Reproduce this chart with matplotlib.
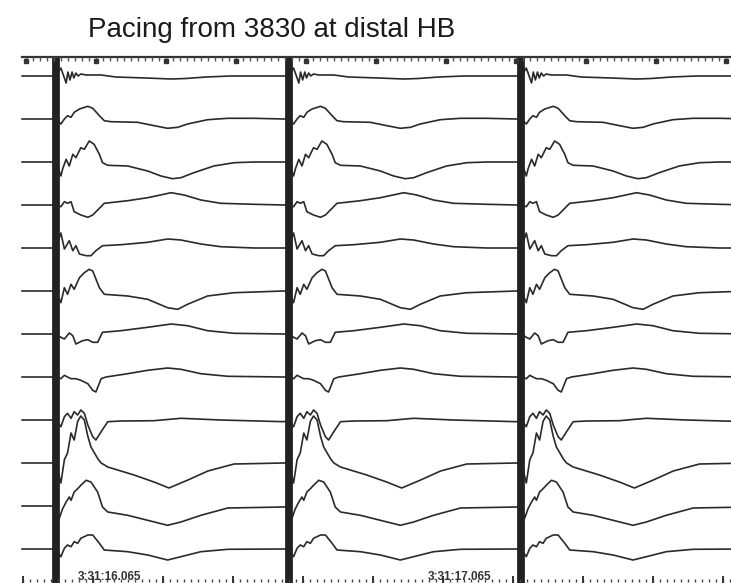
import numpy as np
import matplotlib.pyplot as plt

# pacing times (ms)
pace_ms = [0, 665, 1330]

# one paced complex per channel: time after stimulus (ms) and amplitude (mV)
t01 = [14, 23, 29, 34, 40, 46, 51, 57, 63, 71, 86, 129, 171, 257, 329, 371, 429, 500, 651]
v01 = [0.8, -0.1, -0.7, 0.4, -0.4, 0.4, -0.2, 0.3, 0.0, 0.2, 0.1, 0.1, -0.1, -0.2, -0.3, -0.25, -0.1, 0, 0]

t02 = [14, 24, 33, 43, 52, 67, 91, 105, 124, 138, 157, 233, 281, 319, 348, 376, 433, 491, 566, 651]
v02 = [-0.5, 0.0, 0.33, 0.17, 0.67, 1.0, 1.27, 1.07, 0.33, -0.17, -0.27, -0.33, -0.67, -0.93, -0.83, -0.5, -0.07, 0.07, 0.07, 0]

t03 = [14, 19, 29, 38, 48, 57, 71, 81, 95, 109, 124, 133, 148, 205, 262, 300, 333, 357, 394, 451, 509, 566, 651]
v03 = [-1.4, -0.7, 0.27, -0.4, 0.77, 0.43, 1.43, 1.27, 2.1, 1.77, 0.77, -0.07, -0.33, -0.4, -0.9, -1.4, -1.67, -1.57, -1.07, -0.4, -0.07, 0, 0]

t04 = [14, 24, 33, 43, 52, 71, 91, 105, 124, 138, 205, 262, 329, 366, 414, 471, 566, 651]
v04 = [-0.17, 0.33, 0.17, 0.33, -0.67, -1.0, -1.23, -1.0, -0.33, 0.17, 0.43, 0.73, 1.23, 1.0, 0.5, 0.17, 0.07, 0]

t05 = [14, 24, 38, 48, 57, 67, 86, 100, 114, 133, 186, 262, 319, 357, 414, 471, 566, 651]
v05 = [1.5, -0.1, 0.73, -0.27, 0.23, -0.6, -0.77, -0.77, -0.27, 0.23, 0.33, 0.57, 0.9, 0.8, 0.4, 0.13, 0, 0]

t06 = [14, 24, 33, 43, 52, 67, 81, 95, 105, 124, 138, 205, 262, 319, 348, 376, 433, 509, 651]
v06 = [-1.17, 0.33, -0.33, 0.67, 0.17, 1.33, 1.83, 2.17, 2.0, 0.33, -0.33, -0.5, -0.83, -1.67, -1.83, -1.33, -0.5, -0.17, 0]

t07 = [14, 24, 38, 48, 57, 76, 91, 105, 119, 133, 186, 262, 329, 376, 433, 509, 651]
v07 = [-0.33, -0.5, 0.1, -0.17, -1.0, -0.67, -0.57, -0.83, -0.83, 0.17, 0.33, 0.67, 1.0, 0.83, 0.33, 0.07, 0]

t08 = [14, 24, 33, 43, 57, 71, 91, 105, 114, 129, 143, 205, 262, 319, 357, 414, 491, 651]
v08 = [-0.17, 0.17, 0, -0.17, -0.17, -0.33, -0.67, -1.33, -1.5, -0.17, 0, 0.33, 0.67, 0.9, 0.77, 0.33, 0.07, 0]

t09 = [14, 24, 33, 43, 52, 62, 71, 81, 91, 105, 114, 129, 148, 186, 280, 357, 471, 651]
v09 = [-0.67, 0.33, 0.67, 0.17, 0.83, 0.5, 1.0, 0.67, -0.5, -1.67, -2.0, -1.17, -0.17, -0.1, -0.07, 0.17, 0, -0.17]

t10 = [14, 24, 33, 43, 52, 62, 71, 81, 91, 100, 120, 129, 148, 223, 280, 323, 377, 434, 509, 651]
v10 = [-2.0, 0.33, 1.0, 3.0, 2.3, 4.17, 4.7, 4.3, 2.67, 1.6, 0.4, 0, -0.4, -1.2, -1.9, -2.5, -1.7, -0.8, -0.1, 0]

t11 = [9, 19, 29, 38, 43, 52, 62, 71, 86, 100, 119, 133, 148, 205, 262, 319, 357, 414, 491, 651]
v11 = [-1.27, -0.27, 0.4, 0.9, 0.57, 1.4, 1.73, 2.07, 2.57, 2.4, 1.4, -0.1, -0.6, -0.93, -1.43, -1.93, -1.6, -0.93, -0.2, -0.1]

t12 = [14, 24, 33, 43, 52, 62, 71, 91, 105, 124, 138, 205, 262, 319, 357, 414, 491, 651]
v12 = [-0.77, 0.07, 0.4, 0.23, 0.73, 0.57, 1.07, 1.4, 1.4, 0.57, -0.1, -0.27, -0.6, -1.1, -0.77, -0.27, -0.03, 0]

channels = [(t01, v01), (t02, v02), (t03, v03), (t04, v04), (t05, v05), (t06, v06),
            (t07, v07), (t08, v08), (t09, v09), (t10, v10), (t11, v11), (t12, v12)]

stamps = ["3:31:16.065", "3:31:17.065"]
stamp_ms = [63, 1063]

# layout (pixel rows, 1 mV = 10 px)
top0, step, gain = 76, 43, 10
t_start, t_end = -97, 1930

fig = plt.figure(figsize=(7.31, 5.83), dpi=100)
ax = fig.add_axes([0, 0, 1, 1])
ax.set_xlim(-160, 1929)
ax.set_ylim(583, 0)
ax.axis("off")

ink = "#2a2a2a"

for i, (tt, vv) in enumerate(channels):
    base = top0 + step * i
    xs = [t_start]
    ys = [0]
    for p in pace_ms:
        xs += [p] + [p + t for t in tt]
        ys += [0] + list(vv)
    xs = np.array(xs)
    ys = base - np.array(ys) * gain
    ax.plot(xs, ys, color=ink, lw=1.2, solid_joinstyle="round")

# stimulus artefact
ax.vlines(pace_ms, 58, 583, color="#222222", lw=5.6)

# top time ruler
ax.plot([t_start, t_end], [57, 57], color="#333333", lw=1.6)
minor = np.arange(-86, t_end, 20)
ax.vlines(minor, 57, 61, color="#555555", lw=1.0)
major = np.arange(-86, t_end, 200)
ax.plot(major, [61] * len(major), "s", color="#333333", ms=3)

# bottom time ruler
minor_b = np.arange(-94, t_end, 20)
ax.vlines(minor_b, 579, 582, color="#444444", lw=1.0)
major_b = np.arange(-94, t_end, 200)
ax.vlines(major_b, 576, 583, color="#333333", lw=1.4)
for s, t in zip(stamps, stamp_ms):
    ax.text(t, 582.5, s, fontsize=8.5, family="Liberation Sans", color="#333333",
            ha="left", va="bottom", fontweight="bold")

fig.text(88 / 731, 1 - 37 / 583, "Pacing from 3830 at distal HB", fontsize=20,
         family="Liberation Sans", color="#1a1a1a", ha="left", va="baseline")

fig.savefig("out.png", dpi=100)
